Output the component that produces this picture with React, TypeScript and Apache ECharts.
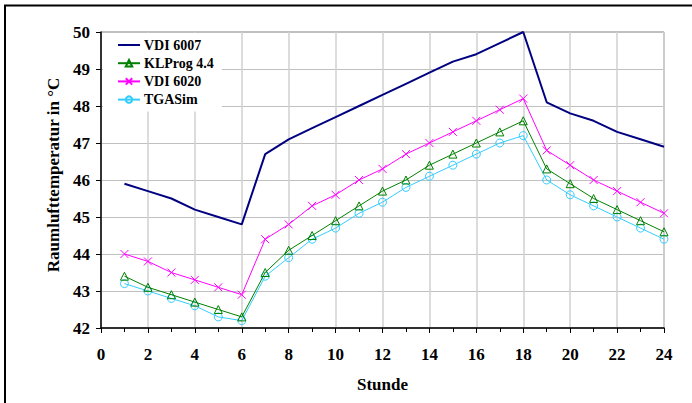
import React, { useEffect, useRef } from "react";
import * as echarts from "echarts";

const hours = [1, 2, 3, 4, 5, 6, 7, 8, 9, 10, 11, 12, 13, 14, 15, 16, 17, 18, 19, 20, 21, 22, 23, 24];
const vdi6007 = [45.9, 45.7, 45.5, 45.2, 45.0, 44.8, 46.7, 47.1, 47.4, 47.7, 48.0, 48.3, 48.6, 48.9, 49.2, 49.4, 49.7, 50.0, 48.1, 47.8, 47.6, 47.3, 47.1, 46.9];
const klprog = [43.4, 43.1, 42.9, 42.7, 42.5, 42.3, 43.5, 44.1, 44.5, 44.9, 45.3, 45.7, 46.0, 46.4, 46.7, 47.0, 47.3, 47.6, 46.3, 45.9, 45.5, 45.2, 44.9, 44.6];
const vdi6020 = [44.0, 43.8, 43.5, 43.3, 43.1, 42.9, 44.4, 44.8, 45.3, 45.6, 46.0, 46.3, 46.7, 47.0, 47.3, 47.6, 47.9, 48.2, 46.8, 46.4, 46.0, 45.7, 45.4, 45.1];
const tgasim = [43.2, 43.0, 42.8, 42.6, 42.3, 42.2, 43.4, 43.9, 44.4, 44.7, 45.1, 45.4, 45.8, 46.1, 46.4, 46.7, 47.0, 47.2, 46.0, 45.6, 45.3, 45.0, 44.7, 44.4];
const seriesNames = ["VDI 6007", "KLProg 4.4", "VDI 6020", "TGASim"];

const FONT = "'Liberation Serif', 'Times New Roman', serif";

const pair = (arr: number[]) => hours.map((h, i) => [h, arr[i]]);

export default function App() {
  const ref = useRef<HTMLDivElement>(null);
  useEffect(() => {
    if (!ref.current) return;
    const chart = echarts.init(ref.current, null, { renderer: "svg" });
    chart.setOption({
      animation: false,
      backgroundColor: "#ffffff",
      graphic: [
        {
          type: "rect",
          shape: { x: 5, y: 5.5, width: 700, height: 420 },
          style: { fill: "none", stroke: "#000", lineWidth: 2 },
          silent: true,
          z: 100,
        },
      ],
      grid: { left: 101, top: 32, right: 28, bottom: 75, show: true, borderColor: "#808080", borderWidth: 1 },
      legend: {
        orient: "vertical",
        left: 103,
        top: 33,
        backgroundColor: "#ffffff",
        padding: [5, 8, 5, 14],
        itemWidth: 22,
        itemHeight: 8,
        itemGap: 4.2,
        data: [
          { name: seriesNames[0], icon: "path://M0,0L22,0L22,2L0,2Z" },
          { name: seriesNames[1] },
          { name: seriesNames[2] },
          { name: seriesNames[3] },
        ],
        textStyle: { fontFamily: FONT, fontWeight: "bold", fontSize: 14, color: "#000", padding: [0, 0, 0, -1] },
      },
      xAxis: {
        type: "value",
        min: 0,
        max: 24,
        interval: 2,
        name: "Stunde",
        nameLocation: "middle",
        nameGap: 48,
        nameTextStyle: { fontFamily: FONT, fontWeight: "bold", fontSize: 17, color: "#000" },
        axisLine: { onZero: false, lineStyle: { color: "#000", width: 1.5 } },
        axisTick: { show: true, length: 5, lineStyle: { color: "#000" } },
        minorTick: { show: true, splitNumber: 2, length: 4, lineStyle: { color: "#000" } },
        axisLabel: { fontFamily: FONT, fontWeight: "bold", fontSize: 17, color: "#000", margin: 18 },
        splitLine: { show: true, lineStyle: { color: "#d0d0d0", width: 1.5 } },
      },
      yAxis: {
        type: "value",
        min: 42,
        max: 50,
        interval: 1,
        name: "Raumlufttemperatur in °C",
        nameLocation: "middle",
        nameGap: 39,
        nameTextStyle: { fontFamily: FONT, fontWeight: "bold", fontSize: 17, color: "#000", padding: [0, 0, 0, 10] },
        axisLine: { show: true, lineStyle: { color: "#000", width: 1.5 } },
        axisTick: { show: true, length: 5, lineStyle: { color: "#000" } },
        axisLabel: { fontFamily: FONT, fontWeight: "bold", fontSize: 17, color: "#000", margin: 11 },
        splitLine: { show: true, lineStyle: { color: "#c0c0c0", width: 1 } },
      },
      series: [
        {
          name: seriesNames[0],
          type: "line",
          data: pair(vdi6007),
          showSymbol: false,
          symbol: "none",
          color: "#000080",
          lineStyle: { color: "#000080", width: 2 },
          itemStyle: { color: "#000080" },
          z: 5,
        },
        {
          name: seriesNames[1],
          type: "line",
          data: pair(klprog),
          symbol: "triangle",
          symbolSize: 8,
          color: "#008000",
          lineStyle: { color: "#008000", width: 1 },
          itemStyle: { color: "rgba(255,255,255,0)", borderColor: "#008000", borderWidth: 1 },
          z: 4,
        },
        {
          name: seriesNames[2],
          type: "line",
          data: pair(vdi6020),
          symbol: "path://M0,0L10,10M10,0L0,10",
          symbolSize: 8,
          color: "#ff00ff",
          lineStyle: { color: "#ff00ff", width: 1 },
          itemStyle: { color: "rgba(255,255,255,0)", borderColor: "#ff00ff", borderWidth: 1 },
          z: 4,
        },
        {
          name: seriesNames[3],
          type: "line",
          data: pair(tgasim),
          symbol: "circle",
          symbolSize: 8,
          color: "#33ccff",
          lineStyle: { color: "#33ccff", width: 1 },
          itemStyle: { color: "rgba(255,255,255,0)", borderColor: "#33ccff", borderWidth: 1 },
          z: 3,
        },
      ],
    });
    return () => chart.dispose();
  }, []);
  return (
    <div
      ref={ref}
      style={{ position: "fixed", left: 0, top: 0, width: 692, height: 403, background: "#fff" }}
    />
  );
}
